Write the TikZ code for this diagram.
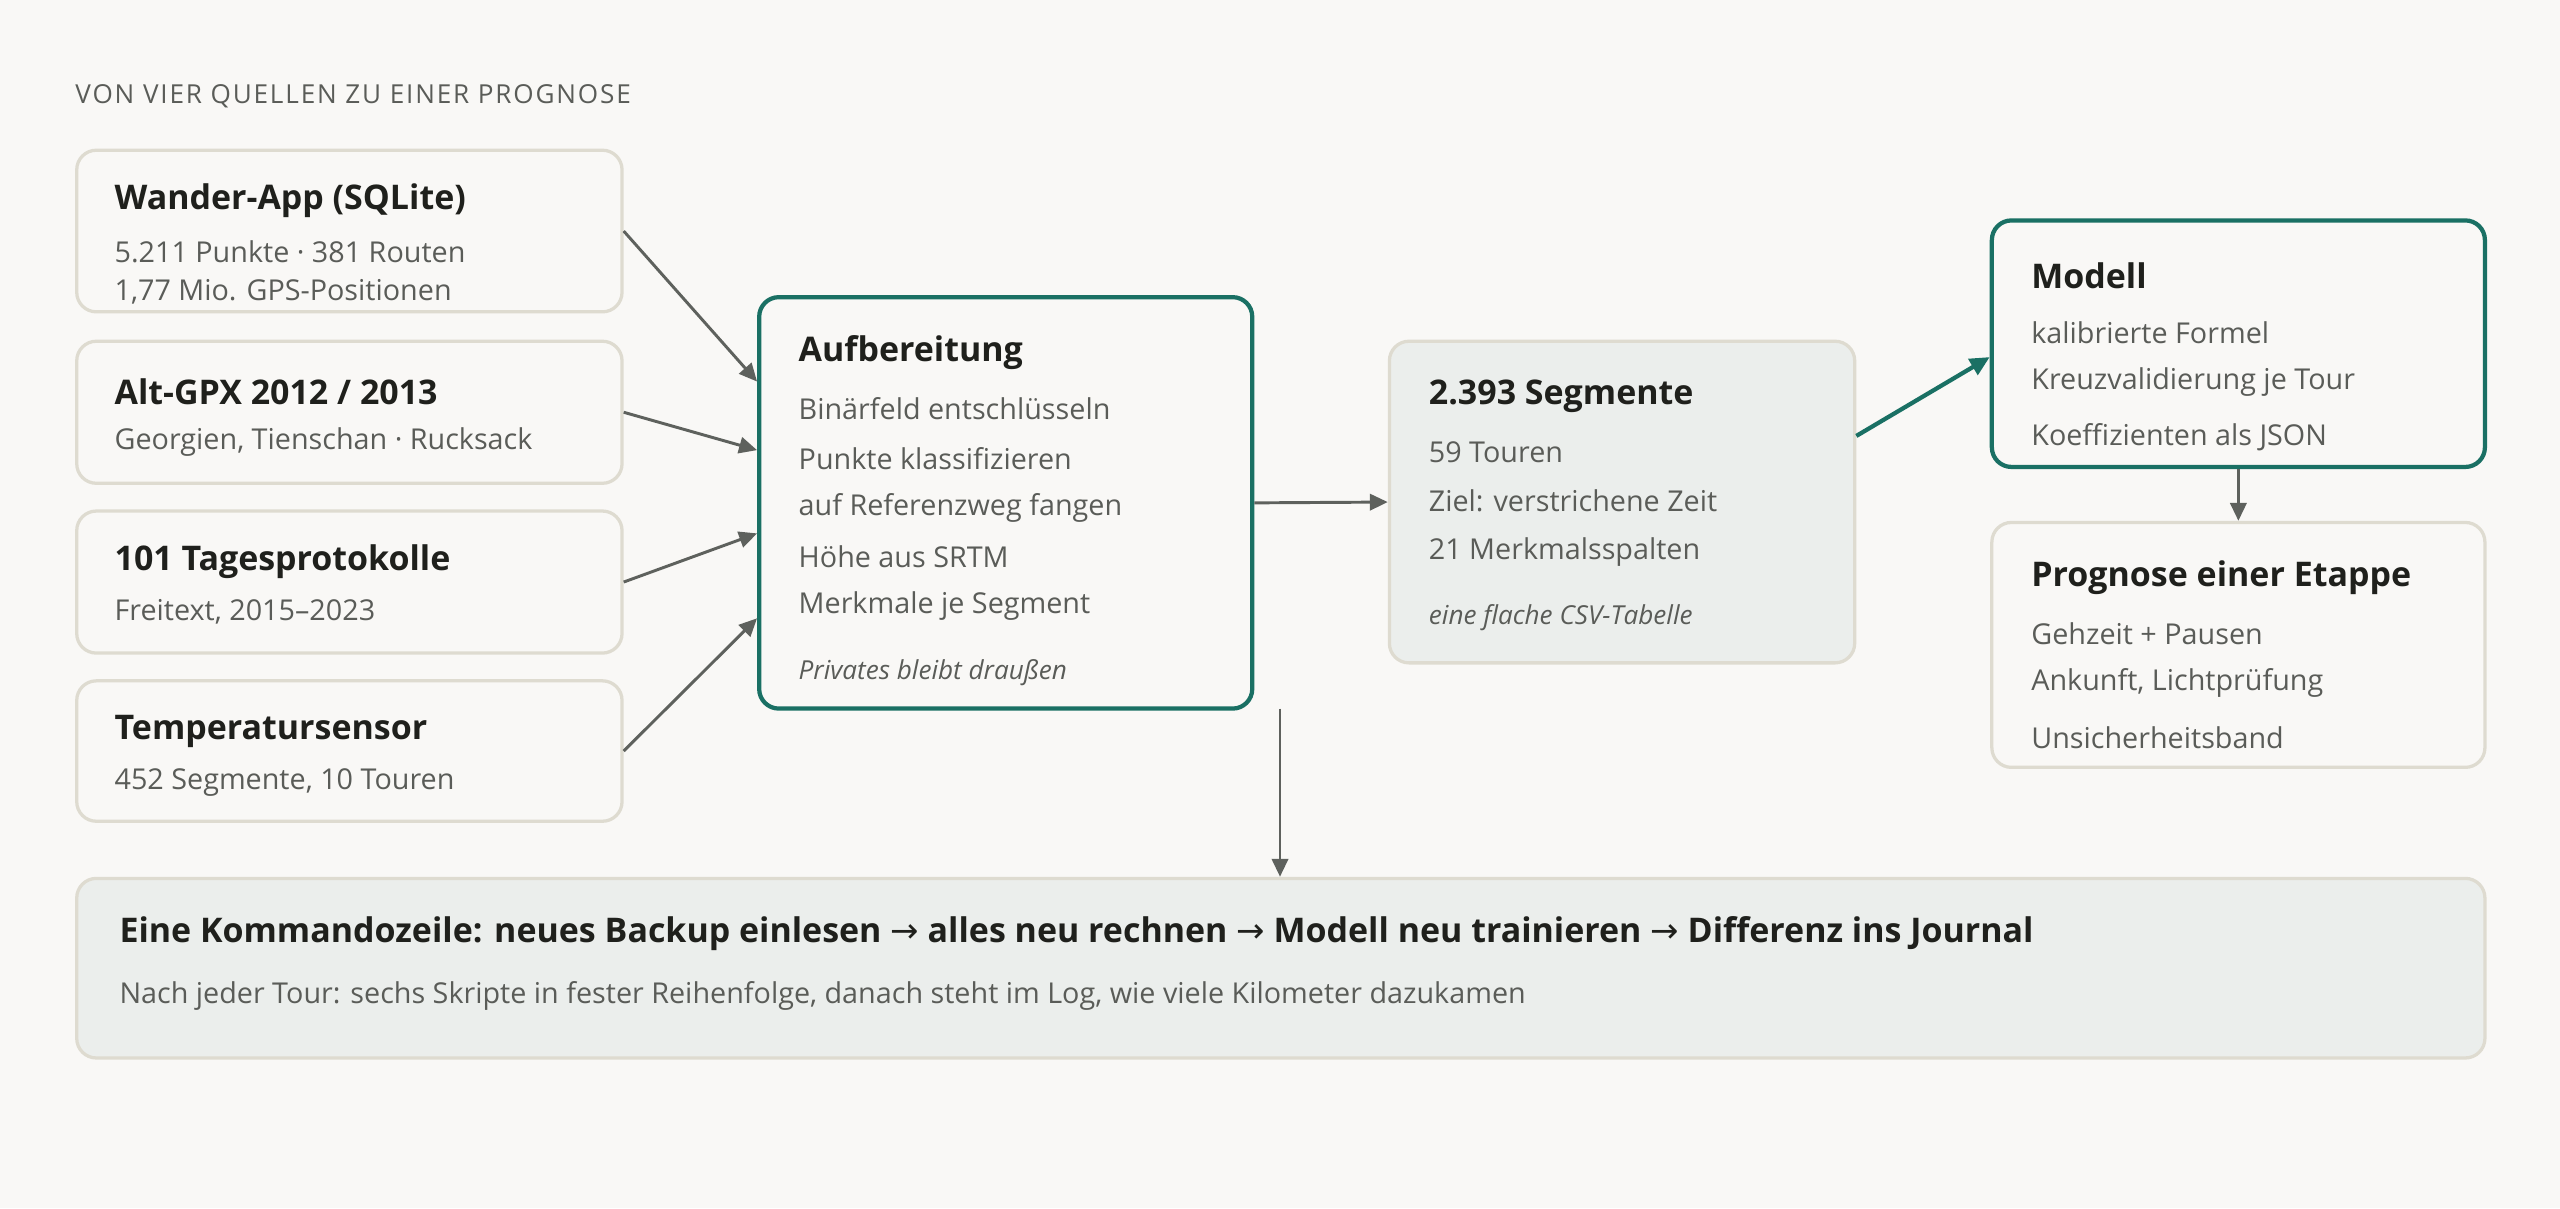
\documentclass[tikz,border=0pt]{standalone}
\usepackage{fontspec}
\setmainfont{Open Sans}
\newfontfamily\arrfont{DejaVu Sans}
\newfontfamily\hdfont[LetterSpace=7]{Open Sans}
\newcommand{\rarr}{{\arrfont\mdseries →}}
\usetikzlibrary{arrows.meta,calc}
\definecolor{bg}{HTML}{F9F8F6}
\definecolor{bd}{HTML}{DEDBD0}
\definecolor{teal}{HTML}{1A7064}
\definecolor{gfill}{HTML}{EBEEEC}
\definecolor{dark}{HTML}{1F201C}
\definecolor{gtext}{HTML}{5A5C58}
\definecolor{arr}{HTML}{5E615D}
\begin{document}
\begin{tikzpicture}[x=1pt,y=-1pt,
  box/.style={draw=bd,line width=2pt,rounded corners=12pt,fill=bg,inner sep=0pt},
  tbox/.style={box,draw=teal,line width=2.6pt},
  gbox/.style={box,fill=gfill},
  ttl/.style={anchor=west,text=dark,font=\fontsize{20.8}{24}\selectfont\bfseries,inner sep=0pt,yshift=-2pt},
  txt/.style={anchor=west,text=gtext,font=\fontsize{17.6}{20}\selectfont,inner sep=0pt,yshift=-2pt},
  itx/.style={anchor=west,text=gtext,font=\fontsize{16}{20}\selectfont\itshape,inner sep=0pt,yshift=-2pt},
  ar/.style={draw=arr,line width=1.8pt,-{Triangle[length=11pt,width=10pt]}},
  tar/.style={draw=teal,line width=2.6pt,-{Triangle[length=12pt,width=11pt]}}]
\fill[bg] (0,0) rectangle (1568,740);
\useasboundingbox (0,0) rectangle (1568,740);
\node[anchor=west,text=gtext,font=\hdfont\fontsize{16}{18}\selectfont,inner sep=0pt] (hd) at (46,59) {VON VIER QUELLEN ZU EINER PROGNOSE};
% sources
\node[box,minimum width=334pt,minimum height=99pt] (s1) at (214,141.5) {};
\node[ttl] (s1t) at (70,121) {Wander-App (SQLite)};
\node[txt] (s1a) at (70,152) {5.211 Punkte · 381 Routen};
\node[txt] (s1b) at (70,177) {1,77 Mio. GPS-Positionen};
\node[box,minimum width=334pt,minimum height=87pt] (s2) at (214,252.5) {};
\node[ttl] (s2t) at (70,238) {Alt-GPX 2012 / 2013};
\node[txt] (s2a) at (70,269) {Georgien, Tienschan · Rucksack};
\node[box,minimum width=334pt,minimum height=87pt] (s3) at (214,356.5) {};
\node[ttl] (s3t) at (70,342) {101 Tagesprotokolle};
\node[txt] (s3a) at (70,373) {Freitext, 2015–2023};
\node[box,minimum width=334pt,minimum height=86pt] (s4) at (214,460) {};
\node[ttl] (s4t) at (70,446) {Temperatursensor};
\node[txt] (s4a) at (70,477) {452 Segmente, 10 Touren};
% Aufbereitung
\node[tbox,minimum width=302pt,minimum height=252pt] (a) at (616,308) {};
\node[ttl] (at) at (489,214) {Aufbereitung};
\node[txt] (a1) at (489,248) {Binärfeld entschlüsseln};
\node[txt] (a2) at (489,279) {Punkte klassifizieren};
\node[txt] (a3) at (489,309) {auf Referenzweg fangen};
\node[txt] (a4) at (489,339) {Höhe aus SRTM};
\node[txt] (a5) at (489,369) {Merkmale je Segment};
\node[itx] (a6) at (489,410) {Privates bleibt draußen};
% Segmente
\node[gbox,minimum width=285pt,minimum height=197pt] (g) at (993.5,307.5) {};
\node[ttl] (gt) at (875,241) {2.393 Segmente};
\node[txt] (g1) at (875,275) {59 Touren};
\node[txt] (g2) at (875,305) {Ziel: verstrichene Zeit};
\node[txt] (g3) at (875,336) {21 Merkmalsspalten};
\node[itx] (g4) at (875,376) {eine flache CSV-Tabelle};
% Modell
\node[tbox,minimum width=302pt,minimum height=151pt] (m) at (1371,210.5) {};
\node[ttl] (mt) at (1244,167) {Modell};
\node[txt] (m1) at (1244,202) {kalibrierte Formel};
\node[txt] (m2) at (1244,232) {Kreuzvalidierung je Tour};
\node[txt] (m3) at (1244,266) {Koeffizienten als JSON};
% Prognose
\node[box,minimum width=302pt,minimum height=150pt] (p) at (1371,395) {};
\node[ttl] (pt) at (1244,352) {Prognose einer Etappe};
\node[txt] (p1) at (1244,386) {Gehzeit + Pausen};
\node[txt] (p2) at (1244,416) {Ankunft, Lichtprüfung};
\node[txt] (p3) at (1244,450) {Unsicherheitsband};
% bottom
\node[gbox,minimum width=1475pt,minimum height=110pt] (b) at (784.5,593) {};
\node[ttl] (bt) at (73,570) {Eine Kommandozeile: neues Backup einlesen \rarr{} alles neu rechnen \rarr{} Modell neu trainieren \rarr{} Differenz ins Journal};
\node[txt] (b1) at (73,608) {Nach jeder Tour: sechs Skripte in fester Reihenfolge, danach steht im Log, wie viele Kilometer dazukamen};
% connectors
\draw[ar] (s1.east) -- ($(a.north west)+(0,53)$);
\draw[ar] (s2.east) -- ($(a.north west)+(0,95)$);
\draw[ar] (s3.east) -- ($(a.north west)+(0,146)$);
\draw[ar] (s4.east) -- ($(a.north west)+(0,198)$);
\draw[ar] (a.east) -- (g.west);
\draw[tar] ($(g.north east)+(0,59)$) -- ($(m.north west)+(0,85)$);
\draw[ar] (m.south) -- (p.north);
\coordinate (c0) at (784,434);
\draw[ar] (c0) -- (c0 |- b.north);
\end{tikzpicture}
\end{document}
